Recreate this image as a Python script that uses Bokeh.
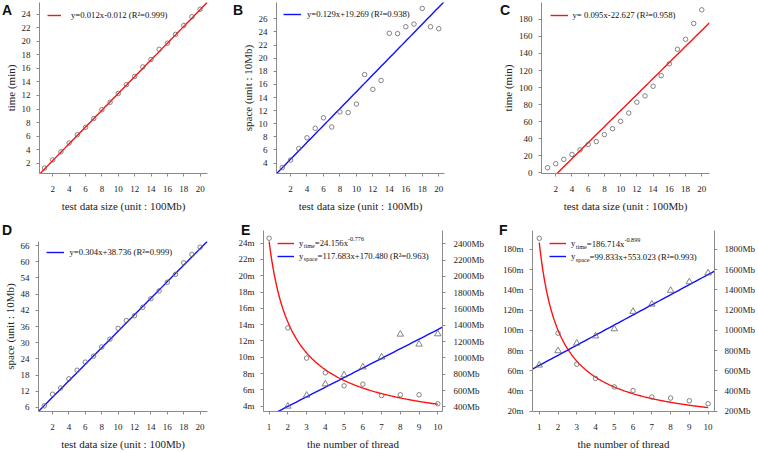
import numpy as np
from bokeh.plotting import figure
from bokeh.models import Range1d, LinearAxis, Legend, LegendItem, Label, FixedTicker, Div
from bokeh.layouts import row, column
from bokeh.embed import file_html
from bokeh.resources import INLINE

# ---------------- data ----------------
size_x = list(range(1, 21))
a_time = [1.3, 2.5, 3.7, 5.0, 6.2, 7.3, 8.6, 9.9, 11.0, 12.3, 13.6, 14.8, 16.2, 17.3, 18.8, 19.7, 21.0, 22.3, 23.6, 24.7]
b_space = [3.3, 4.45, 6.2, 7.85, 9.3, 10.9, 9.5, 11.8, 11.7, 13.0, 17.5, 15.25, 16.6, 23.8, 23.75, 24.8, 25.2, 27.6, 24.8, 24.5]
c_time = [5.8, 10.5, 15.6, 21.4, 26.8, 33, 36.5, 44.7, 51.7, 60.3, 70, 82.8, 90.2, 101.5, 113.9, 127.9, 145, 156.7, 175.3, 191.3]
d_space = [6.6, 10.9, 13.2, 16.6, 19.8, 22.8, 25, 28.4, 31.3, 35.3, 38.2, 40, 43.1, 46.3, 49.2, 52.4, 55.3, 59.6, 62.7, 65.4]

threads = list(range(1, 11))
e_time = [24.6, 13.6, 9.9, 8.1, 6.5, 6.7, 5.3, 5.4, 5.4, 4.3]
e_space_x = list(range(2, 11))
e_space = [407, 541, 680, 790, 888, 1010, 1290, 1168, 1294]
f_time = [191, 97.2, 66.4, 52.4, 44, 40.4, 34, 33, 30.3, 27.4]
f_space = [655, 797, 872, 943, 1014, 1186, 1258, 1394, 1479, 1566]

# fitted curves (in plotted units)
a_fit = (1.235, -0.06)
b_fit = (1.29, 1.98)
c_fit = (9.42, -21.3)
d_fit = (3.06, 3.65)
e_time_fit = (24.2, -0.757)
e_space_fit = (117.683, 170.48)
f_time_fit = (186.714, -0.899)
f_space_fit = (99.833, 553.023)

a_eq = "y=0.012x-0.012 (R\u00b2=0.999)"
b_eq = "y=0.129x+19.269 (R\u00b2=0.938)"
c_eq = "y= 0.095x-22.627 (R\u00b2=0.958)"
d_eq = "y=0.304x+38.736 (R\u00b2=0.999)"
e_eq_time = ("y", "time", "=24.156x", "-0.776")
e_eq_space = ("y", "space", "=117.683x+170.480 (R\u00b2=0.963)", "")
f_eq_time = ("y", "time", "=186.714x", "-0.899")
f_eq_space = ("y", "space", "=99.833x+553.023 (R\u00b2=0.993)", "")

size_ticks = list(range(2, 21, 2))
thread_ticks = list(range(1, 11))
a_yticks = list(range(2, 25, 2))
b_yticks = list(range(4, 27, 2))
c_yticks = list(range(0, 181, 20))
d_yticks = list(range(6, 67, 6))
e_lticks = list(range(4, 25, 2))
e_rticks = list(range(400, 2401, 200))
f_lticks = list(range(20, 181, 20))
f_rticks = list(range(200, 1801, 200))

xlabel_size = "test data size (unit : 100Mb)"
xlabel_thread = "the number of thread"
ylabel_time = "time (min)"
ylabel_space = "space (unit : 10Mb)"
panel_letters = ["A", "B", "C", "D", "E", "F"]

# ---------------- style ----------------
SERIF = "Liberation Serif"
SANS = "Liberation Sans"
AXC = "#8a8a8a"
TXT = "#222222"
RED = "#ff1010"
BLUE = "#1010ff"
PT = "#666666"
letter_pos = [(2, 0), (233, 0), (500, 0), (2, 220), (241, 220), (499, 220)]

TW = {'.': 0.25, '=': 0.564, '+': 0.564, '-': 0.333, 'x': 0.5, 'y': 0.5, ' ': 0.25,
      '(': 0.333, ')': 0.333, 'R': 0.667, '\u00b2': 0.3, 't': 0.278, 'i': 0.278,
      'm': 0.778, 'e': 0.444, 's': 0.389, 'p': 0.5, 'a': 0.444, 'c': 0.444}


def tw(s, size):
    return sum(TW.get(ch, 0.5) for ch in s) * size


def make_fig(W, H, L, R, T, B, xr, yr):
    p = figure(width=W, height=H, x_range=Range1d(*xr), y_range=Range1d(*yr),
               output_backend="svg", toolbar_location=None,
               min_border_left=L, min_border_right=R, min_border_top=T, min_border_bottom=B)
    p.outline_line_color = None
    p.grid.visible = False
    g = dict(L=L, T=T, fh=H - T - B, fw=W - L - R)
    return p, g


def style_axes(p, xstand=9, xlab=5, ystand=6, ylab=2):
    for ax in p.axis:
        ax.axis_line_color = AXC
        ax.axis_line_width = 1
        ax.major_tick_line_color = AXC
        ax.major_tick_out = 3
        ax.major_tick_in = 0
        ax.minor_tick_line_color = None
        ax.major_label_text_font = SERIF
        ax.major_label_text_font_size = "9px"
        ax.major_label_text_color = TXT
        ax.axis_label_text_font = SERIF
        ax.axis_label_text_font_size = "11px"
        ax.axis_label_text_font_style = "normal"
        ax.axis_label_text_color = TXT
    for ax in p.xaxis:
        ax.major_label_standoff = xstand
        ax.axis_label_standoff = xlab
    for ax in p.yaxis:
        ax.major_label_standoff = ystand
        ax.axis_label_standoff = ylab


def add_simple_legend(p, g, r, text, rel_x, cy, gw=18, so=5):
    rh = 12
    leg = Legend(items=[LegendItem(label=text, renderers=[r])],
                 location=(rel_x, g["fh"] - cy - rh / 2), padding=0, margin=0, spacing=0,
                 glyph_width=gw, glyph_height=rh, label_height=rh, label_standoff=so,
                 label_text_font=SERIF, label_text_font_size="8.7px", label_text_color="#111111",
                 border_line_color=None, background_fill_alpha=0)
    p.add_layout(leg)


def add_eq_legend(p, g, r1, r2, eq1, eq2, rel_x, cy1, cy2, gw=17, so=5):
    rh = 12
    sp = int(round(cy2 - cy1 - rh))
    leg = Legend(items=[LegendItem(label=eq1[0], renderers=[r1]), LegendItem(label=eq2[0], renderers=[r2])],
                 location=(rel_x, g["fh"] - cy2 - rh / 2), padding=0, margin=0, spacing=sp,
                 glyph_width=gw, glyph_height=rh, label_height=rh, label_standoff=so,
                 label_text_font=SERIF, label_text_font_size="8.7px", label_text_color="#111111",
                 border_line_color=None, background_fill_alpha=0)
    p.add_layout(leg)
    for eq, cy in ((eq1, cy1), (eq2, cy1 + rh + sp)):
        x0 = rel_x + gw + so + tw(eq[0], 8.7)
        yb = g["fh"] - cy
        p.add_layout(Label(x=x0, y=yb - 2.5, x_units="screen", y_units="screen", text=eq[1],
                           text_font=SERIF, text_font_size="6.2px", text_baseline="middle",
                           text_color="#111111"))
        x1 = x0 + tw(eq[1], 6.2)
        p.add_layout(Label(x=x1, y=yb, x_units="screen", y_units="screen", text=eq[2],
                           text_font=SERIF, text_font_size="8.7px", text_baseline="middle",
                           text_color="#111111"))
        if eq[3]:
            x2 = x1 + tw(eq[2], 8.7)
            p.add_layout(Label(x=x2, y=yb + 3.5, x_units="screen", y_units="screen", text=eq[3],
                               text_font=SERIF, text_font_size="6.2px", text_baseline="middle",
                               text_color="#111111"))


def scatter_circles(p, x, y, **kw):
    p.scatter(x, y, marker="circle", size=4.5, fill_color=None, line_color=PT, line_width=0.8, **kw)


def linear_panel(W, H, L, R, T, B, xr, yr, yvals, fit, color, yticks, ylabel, eq,
                 leg_x, leg_cy, gw=18, so=5):
    p, g = make_fig(W, H, L, R, T, B, xr, yr)
    xs = np.linspace(xr[0], xr[1], 60)
    r = p.line(xs, fit[0] * xs + fit[1], line_color=color, line_width=1.4)
    scatter_circles(p, size_x, yvals)
    p.xaxis.ticker = FixedTicker(ticks=size_ticks)
    p.yaxis.ticker = FixedTicker(ticks=yticks)
    p.xaxis.axis_label = xlabel_size
    p.yaxis.axis_label = ylabel
    style_axes(p)
    add_simple_legend(p, g, r, eq, leg_x, leg_cy, gw=gw, so=so)
    return p


pA = linear_panel(225, 218, 39, 18, 2, 45, (0.38, 20.9), (0.5, 25.7), a_time, a_fit, RED,
                  a_yticks, ylabel_time, a_eq, 8, 12.7, gw=14, so=10)
pB = linear_panel(265, 218, 51, 46, 2, 45, (0.3, 20.7), (2.4, 28.5), b_space, b_fit, BLUE,
                  b_yticks, ylabel_space, b_eq, 7, 12, gw=18, so=6)
pC = linear_panel(268, 218, 51, 49, 2, 45, (0.25, 20.95), (-1, 199.9), c_time, c_fit, RED,
                  c_yticks, ylabel_time, c_eq, 8.5, 13)
pD = linear_panel(225, 234, 38, 18, 23, 40, (0.29, 20.9), (4.5, 67.5), d_space, d_fit, BLUE,
                  d_yticks, ylabel_space, d_eq, 8.4, 12.3)


def thread_panel(W, H, L, R, T, B, xr, yr, rr, t_vals, s_x, s_vals, tfit, sfit, lticks, rticks,
                 eq1, eq2, leg_x, cy1, cy2, rstand):
    p, g = make_fig(W, H, L, R, T, B, xr, yr)
    p.extra_y_ranges = {"right": Range1d(*rr)}
    xt = np.linspace(1, 10, 200)
    r1 = p.line(xt, tfit[0] * xt ** tfit[1], line_color=RED, line_width=1.4)
    xs = np.linspace(xr[0], xr[1], 60)
    r2 = p.line(xs, sfit[0] * xs + sfit[1], line_color=BLUE, line_width=1.4, y_range_name="right")
    scatter_circles(p, threads, t_vals)
    p.scatter(s_x, s_vals, marker="triangle", size=6.5, fill_color=None, line_color=PT,
              line_width=0.8, y_range_name="right")
    rax = LinearAxis(y_range_name="right", ticker=FixedTicker(ticks=rticks),
                     major_label_overrides={t: f"{t}Mb" for t in rticks})
    p.add_layout(rax, "right")
    p.xaxis.ticker = FixedTicker(ticks=thread_ticks)
    p.yaxis[0].ticker = FixedTicker(ticks=lticks)
    p.yaxis[0].major_label_overrides = {t: f"{t}m" for t in lticks}
    p.xaxis.axis_label = xlabel_thread
    style_axes(p)
    rax.major_label_standoff = rstand
    add_eq_legend(p, g, r1, r2, eq1, eq2, leg_x, cy1, cy2)
    return p


pE = thread_panel(265, 234, 38, 48, 12, 40, (0.7, 10.25), (3.35, 25.55), (343, 2562),
                  e_time, e_space_x, e_space, e_time_fit, e_space_fit, e_lticks, e_rticks,
                  e_eq_time, e_eq_space, 14, 13.3, 26.7, 8)
pF = thread_panel(268, 234, 42, 44, 12, 40, (0.64, 10.34), (19.7, 198.7), (197, 1987),
                  f_time, threads, f_space, f_time_fit, f_space_fit, f_lticks, f_rticks,
                  f_eq_time, f_eq_space, 17, 14, 26.7, 7)

letter_divs = [
    Div(text=t, width=16, height=18,
        styles={"position": "absolute", "left": f"{x}px", "top": f"{y}px",
                "font-family": SANS, "font-weight": "bold", "font-size": "14px",
                "color": "#111111", "margin": "0px", "padding": "0px"})
    for t, (x, y) in zip(panel_letters, letter_pos)
]

layout = column(row(pA, pB, pC), row(column(pD), column(pE), column(pF)), *letter_divs)
open("out.html", "w").write(file_html(layout, INLINE))
